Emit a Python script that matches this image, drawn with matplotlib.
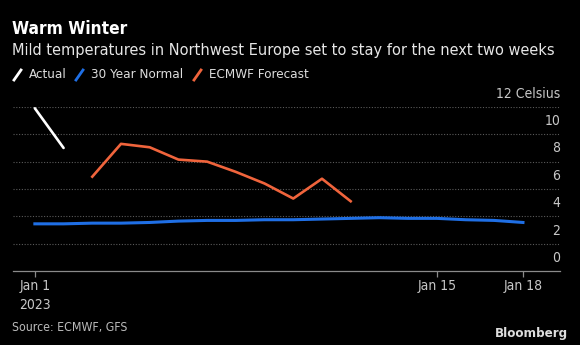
import matplotlib.pyplot as plt
from matplotlib.lines import Line2D
import pandas as pd

dates = pd.date_range("2023-01-01", "2023-01-18")
actual = [11.9, 9.0]
normal = [3.45, 3.45, 3.5, 3.5, 3.55, 3.65, 3.7, 3.7, 3.75, 3.75,
          3.8, 3.85, 3.9, 3.85, 3.85, 3.75, 3.7, 3.55]
forecast = [6.9, 9.3, 9.05, 8.15, 8.0, 7.25, 6.4, 5.3, 6.75, 5.1]
forecast_dates = dates[2:12]
yticks = [0, 2, 4, 6, 8, 10, 12]
xtick_dates = ["2023-01-01", "2023-01-15", "2023-01-18"]
xtick_labels = ["Jan 1\n2023", "Jan 15", "Jan 18"]

WHITE = "#ffffff"
BLUE = "#1f6fe5"
ORANGE = "#f0643c"

plt.rcParams["font.family"] = ["DejaVu Sans"]
plt.rcParams["font.stretch"] = "condensed"

fig = plt.figure(figsize=(5.8, 3.45), dpi=100, facecolor="black")
ax = fig.add_axes([0.022, 0.2145, 0.944, 0.4755], facecolor="black")

ax.plot(dates[:2], actual, color=WHITE, lw=1.9, clip_on=False, solid_capstyle="round")
ax.plot(dates, normal, color=BLUE, lw=2.2, clip_on=False)
ax.plot(forecast_dates, forecast, color=ORANGE, lw=1.9, clip_on=False)

ax.set_ylim(0, 12)
ax.set_xlim(dates[0] - pd.Timedelta(days=0.77), dates[-1] + pd.Timedelta(days=1.3))

# gridlines and right-side labels sitting above them
for v in yticks[1:]:
    ax.axhline(v, color="#5a5a5a", lw=0.8, ls=(0, (1, 1.5)), zorder=0)
for v in yticks:
    lab = "12 Celsius" if v == 12 else str(v)
    ax.text(1.0, v + 0.45, lab, transform=ax.get_yaxis_transform(),
            ha="right", va="bottom", color="#c8c8c8", fontsize=10)

ax.set_yticks([])
for s in ["left", "right", "top"]:
    ax.spines[s].set_visible(False)
ax.spines["bottom"].set_color("#8a8a8a")
ax.spines["bottom"].set_linewidth(0.9)

ax.set_xticks(pd.to_datetime(xtick_dates))
ax.set_xticklabels(xtick_labels, color="#c8c8c8", fontsize=10, linespacing=1.4)
ax.tick_params(axis="x", colors="#8a8a8a", length=4, width=0.9, pad=2, labelcolor="#c8c8c8")

# titles
fig.text(12 / 580, 1 - 29 / 345, "Warm Winter", color=WHITE, fontsize=12.4,
         fontweight="bold", va="center", ha="left")
fig.text(12 / 580, 1 - 50 / 345,
         "Mild temperatures in Northwest Europe set to stay for the next two weeks",
         color="#e6e6e6", fontsize=11.7, va="center", ha="left")

# legend
leg = [("Actual", WHITE, 14), ("30 Year Normal", BLUE, 76), ("ECMWF Forecast", ORANGE, 194)]
for label, col, x0 in leg:
    fig.add_artist(Line2D([x0 / 580, (x0 + 7) / 580], [1 - 80 / 345, 1 - 70 / 345],
                          color=col, lw=2, transform=fig.transFigure))
    fig.text((x0 + 15) / 580, 1 - 75 / 345, label, color="#dddddd", fontsize=9.6,
             va="center", ha="left")

fig.text(12 / 580, 1 - 328 / 345, "Source: ECMWF, GFS", color="#bbbbbb",
         fontsize=8.8, va="center", ha="left")
fig.text(568 / 580, 1 - 333 / 345, "Bloomberg", color="#dddddd", fontsize=9.5,
         fontweight="bold", va="center", ha="right")

fig.savefig("out.png", dpi=100, facecolor="black")
